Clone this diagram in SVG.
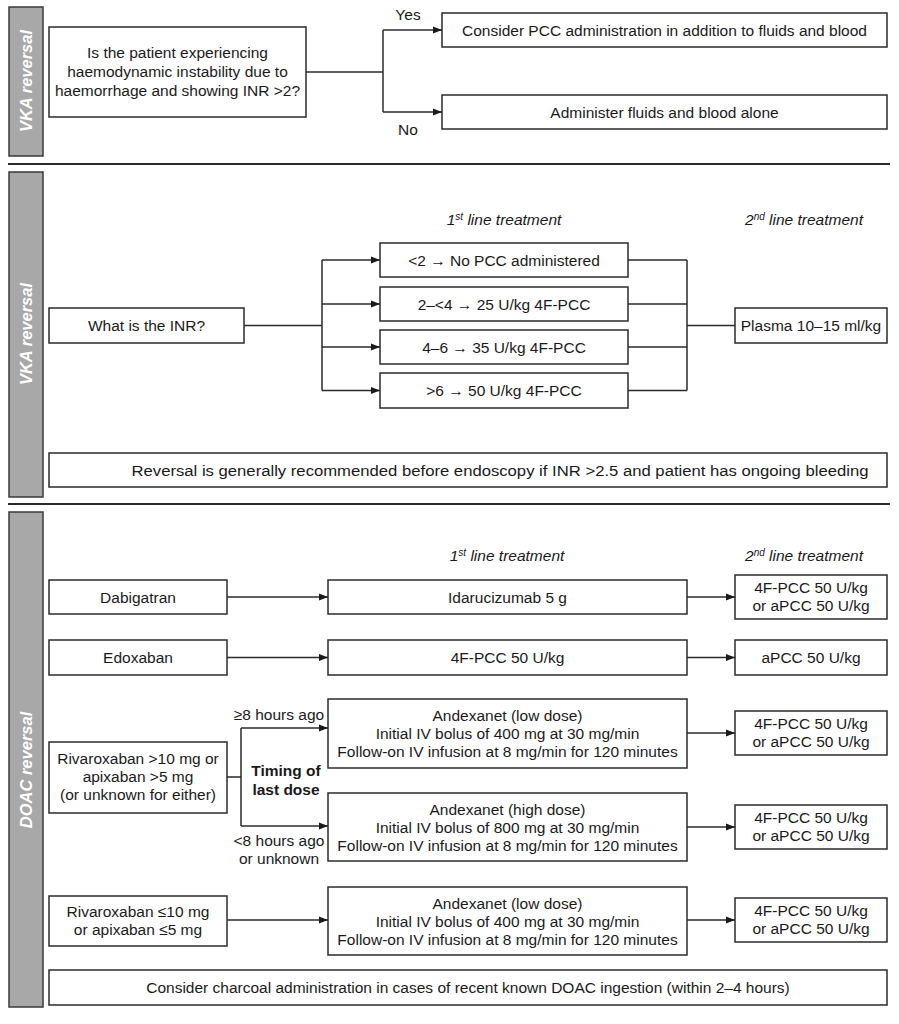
<svg xmlns="http://www.w3.org/2000/svg" width="899" height="1024" viewBox="0 0 899 1024">
<defs>
<style>
text{font-family:"Liberation Sans",Arial,sans-serif;font-size:15.5px;fill:#1a1a1a;text-anchor:middle}
.box{fill:#fff;stroke:#2b2b2b;stroke-width:1.5}
.side{fill:#a8a8a8;stroke:#3a3a3a;stroke-width:1.5}
.sidetxt{fill:#fff;font-weight:bold;font-style:italic;font-size:16.5px}
.ln{fill:none;stroke:#2b2b2b;stroke-width:1.5}
.sep{stroke:#2b2b2b;stroke-width:2}
.hdr{font-style:italic}
.bold{font-weight:bold;font-size:15.5px}
.sup{font-size:10px}
</style>
<marker id="ah" viewBox="0 0 9 8" refX="9" refY="4" markerWidth="9" markerHeight="8" markerUnits="userSpaceOnUse" orient="auto">
<path d="M0,0.5 L9,4 L0,7.5 Z" fill="#1a1a1a"/>
</marker>
</defs>
<rect width="899" height="1024" fill="#fff"/>

<!-- separators -->
<line class="sep" x1="8" y1="164" x2="890" y2="164"/>
<line class="sep" x1="8" y1="504" x2="890" y2="504"/>

<!-- section 1 -->
<g id="side1"><rect class="side" x="9" y="7" width="34" height="149"/><text class="sidetxt" transform="translate(32,81) rotate(-90)">VKA reversal</text></g>
<g id="q1"><rect class="box" x="49" y="27" width="257" height="90"/>
<text x="177.5" y="58">Is the patient experiencing</text>
<text x="177.5" y="77">haemodynamic instability due to</text>
<text x="177.5" y="96">haemorrhage and showing INR &gt;2?</text></g>
<g id="yes1"><rect class="box" x="442" y="13" width="445" height="34"/><text x="664.5" y="35.5">Consider PCC administration in addition to fluids and blood</text></g>
<g id="no1"><rect class="box" x="442" y="95" width="445" height="34"/><text x="664.5" y="117.5">Administer fluids and blood alone</text></g>

<!-- section 2 -->
<g id="side2"><rect class="side" x="9" y="172" width="34" height="325"/><text class="sidetxt" transform="translate(32,334) rotate(-90)">VKA reversal</text></g>
<g id="inr"><rect class="box" x="49" y="308" width="195" height="35"/><text x="146.5" y="331">What is the INR?</text></g>
<text class="hdr" x="504" y="225">1<tspan class="sup" dy="-5">st</tspan><tspan dy="5"> line treatment</tspan></text>
<text class="hdr" x="804" y="225">2<tspan class="sup" dy="-5">nd</tspan><tspan dy="5"> line treatment</tspan></text>
<g id="inr1"><rect class="box" x="380" y="243" width="248" height="34"/><text x="504" y="265.5">&lt;2 → No PCC administered</text></g>
<g id="inr2"><rect class="box" x="380" y="287" width="248" height="34"/><text x="504" y="309.5">2–&lt;4 → 25 U/kg 4F-PCC</text></g>
<g id="inr3"><rect class="box" x="380" y="330" width="248" height="34"/><text x="504" y="352.5">4–6 → 35 U/kg 4F-PCC</text></g>
<g id="inr4"><rect class="box" x="380" y="373" width="248" height="35"/><text x="504" y="396">&gt;6 → 50 U/kg 4F-PCC</text></g>
<g id="plasma"><rect class="box" x="735" y="308" width="152" height="35"/><text x="811" y="331">Plasma 10–15 ml/kg</text></g>
<g id="note1"><rect class="box" x="49" y="453" width="838" height="34"/><text x="500" y="475.5" textLength="737" lengthAdjust="spacingAndGlyphs">Reversal is generally recommended before endoscopy if INR &gt;2.5 and patient has ongoing bleeding</text></g>

<!-- section 3 -->
<g id="side3"><rect class="side" x="9" y="512" width="34" height="495"/><text class="sidetxt" transform="translate(32,770) rotate(-90)">DOAC reversal</text></g>
<text class="hdr" x="507" y="561">1<tspan class="sup" dy="-5">st</tspan><tspan dy="5"> line treatment</tspan></text>
<text class="hdr" x="804" y="561">2<tspan class="sup" dy="-5">nd</tspan><tspan dy="5"> line treatment</tspan></text>
<g id="dabi"><rect class="box" x="49" y="580" width="178" height="34"/><text x="138" y="602.5">Dabigatran</text></g>
<g id="ida"><rect class="box" x="328" y="580" width="359" height="34"/><text x="507.5" y="602.5">Idarucizumab 5 g</text></g>
<g id="dabi2"><rect class="box" x="735" y="575" width="152" height="44"/><text x="811" y="593">4F-PCC 50 U/kg</text><text x="811" y="611">or aPCC 50 U/kg</text></g>
<g id="edox"><rect class="box" x="49" y="640" width="178" height="35"/><text x="138" y="663">Edoxaban</text></g>
<g id="edox1"><rect class="box" x="328" y="640" width="359" height="35"/><text x="507.5" y="663">4F-PCC 50 U/kg</text></g>
<g id="edox2"><rect class="box" x="735" y="640" width="152" height="35"/><text x="811" y="663">aPCC 50 U/kg</text></g>
<g id="riva"><rect class="box" x="49" y="742" width="178" height="71"/>
<text x="138" y="764">Rivaroxaban &gt;10 mg or</text>
<text x="138" y="782">apixaban &gt;5 mg</text>
<text x="138" y="800">(or unknown for either)</text></g>
<text class="bold" x="286" y="776">Timing of</text>
<text class="bold" x="286" y="795">last dose</text>
<text x="279" y="720">≥8 hours ago</text>
<text x="279" y="846">&lt;8 hours ago</text>
<text x="279" y="864">or unknown</text>
<g id="andlow"><rect class="box" x="328" y="699" width="359" height="69"/>
<text x="507.5" y="721">Andexanet (low dose)</text>
<text x="507.5" y="739">Initial IV bolus of 400 mg at 30 mg/min</text>
<text x="507.5" y="757">Follow-on IV infusion at 8 mg/min for 120 minutes</text></g>
<g id="andlow2"><rect class="box" x="735" y="711" width="152" height="44"/><text x="811" y="729">4F-PCC 50 U/kg</text><text x="811" y="747">or aPCC 50 U/kg</text></g>
<g id="andhigh"><rect class="box" x="328" y="793" width="359" height="68"/>
<text x="507.5" y="815">Andexanet (high dose)</text>
<text x="507.5" y="833">Initial IV bolus of 800 mg at 30 mg/min</text>
<text x="507.5" y="851">Follow-on IV infusion at 8 mg/min for 120 minutes</text></g>
<g id="andhigh2"><rect class="box" x="735" y="805" width="152" height="44"/><text x="811" y="823">4F-PCC 50 U/kg</text><text x="811" y="841">or aPCC 50 U/kg</text></g>
<g id="riva2"><rect class="box" x="49" y="896" width="178" height="50"/>
<text x="138" y="917">Rivaroxaban ≤10 mg</text>
<text x="138" y="935">or apixaban ≤5 mg</text></g>
<g id="andlow3"><rect class="box" x="328" y="887" width="359" height="68"/>
<text x="507.5" y="909">Andexanet (low dose)</text>
<text x="507.5" y="927">Initial IV bolus of 400 mg at 30 mg/min</text>
<text x="507.5" y="945">Follow-on IV infusion at 8 mg/min for 120 minutes</text></g>
<g id="andlow32"><rect class="box" x="735" y="898" width="152" height="44"/><text x="811" y="916">4F-PCC 50 U/kg</text><text x="811" y="934">or aPCC 50 U/kg</text></g>
<g id="note2"><rect class="box" x="49" y="970" width="838" height="35"/><text x="468" y="993">Consider charcoal administration in cases of recent known DOAC ingestion (within 2–4 hours)</text></g>

<!-- connectors -->
<g id="connectors">
<text x="408" y="20">Yes</text>
<text x="408" y="135">No</text>
<path class="ln" d="M306,72 H383"/>
<path class="ln" d="M383,30 V112"/>
<path class="ln" d="M383,30 H442" marker-end="url(#ah)"/>
<path class="ln" d="M383,112 H442" marker-end="url(#ah)"/>

<path class="ln" d="M244,325.5 H322 M322,260 V390.5"/>
<path class="ln" d="M322,260 H380" marker-end="url(#ah)"/>
<path class="ln" d="M322,304 H380" marker-end="url(#ah)"/>
<path class="ln" d="M322,347 H380" marker-end="url(#ah)"/>
<path class="ln" d="M322,390.5 H380" marker-end="url(#ah)"/>
<path class="ln" d="M628,260 H687 M628,304 H687 M628,347 H687 M628,390.5 H687 M687,260 V390.5 M687,325.5 H735"/>

<path class="ln" d="M227,597 H328" marker-end="url(#ah)"/>
<path class="ln" d="M687,597 H735" marker-end="url(#ah)"/>
<path class="ln" d="M227,657.5 H328" marker-end="url(#ah)"/>
<path class="ln" d="M687,657.5 H735" marker-end="url(#ah)"/>
<path class="ln" d="M227,777 H241 M241,728 V826"/>
<path class="ln" d="M241,728 H328" marker-end="url(#ah)"/>
<path class="ln" d="M241,826 H328" marker-end="url(#ah)"/>
<path class="ln" d="M687,733 H735" marker-end="url(#ah)"/>
<path class="ln" d="M687,827 H735" marker-end="url(#ah)"/>
<path class="ln" d="M227,920 H328" marker-end="url(#ah)"/>
<path class="ln" d="M687,920 H735" marker-end="url(#ah)"/>
</g>
</svg>
